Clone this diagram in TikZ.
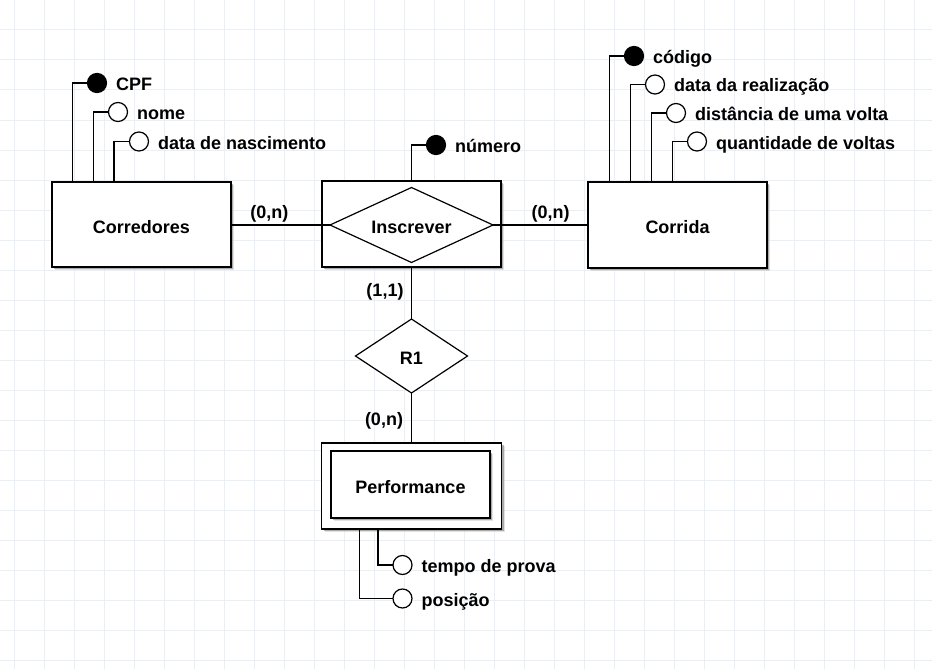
\documentclass[tikz,border=0pt]{standalone}
\usepackage{fontspec}
\setmainfont{Liberation Sans}
\usetikzlibrary{shapes.geometric,shadows}
\definecolor{gridblue}{RGB}{233,239,247}
\begin{document}
\begin{tikzpicture}[x=1pt,y=-1pt,
  every node/.style={font=\fontsize{18}{20}\selectfont\bfseries},
  conn/.style={line width=1.2pt, black},
  entity/.style={draw, line width=1.2pt, fill=white, rectangle, inner sep=0pt, outer sep=0pt,
    text height=17pt, text depth=0pt,
    drop shadow={shadow xshift=3pt, shadow yshift=-3pt, fill=black!22},
    drop shadow={shadow xshift=2pt, shadow yshift=-2pt, fill=black!55}},
  rel/.style={draw, line width=1.2pt, fill=white, diamond, shape aspect=2, inner sep=0pt, outer sep=0pt,
    text height=17pt, text depth=0pt},
  keyattr/.style={circle, draw, line width=1.2pt, fill=black, minimum size=19pt, inner sep=0pt, outer sep=0pt},
  attr/.style={keyattr, fill=white},
  attrtext/.style={anchor=base west, inner sep=0pt},
  card/.style={inner sep=0pt}
]
% canvas and grid
\useasboundingbox (0,0) rectangle (932,669);
\fill[white] (0,0) rectangle (932,669);
\foreach \gx in {14,44,...,914} \draw[gridblue, line width=1pt] (\gx,0) -- (\gx,669);
\foreach \gy in {0,30,...,660} \draw[gridblue, line width=1pt] (0,\gy) -- (932,\gy);

% entities and relationships
\node[entity, minimum width=179pt, minimum height=85pt] (corredores) at (141.5,224.5) {Corredores};
\node[entity, minimum width=179pt, minimum height=86pt] (inscBox) at (411.5,224) {};
\node[rel, minimum width=163pt, minimum height=75pt] (inscrever) at (411.5,225) {Inscrever};
\node[entity, minimum width=179pt, minimum height=86pt] (corrida) at (677.5,225) {Corrida};
\node[rel, minimum width=112pt, minimum height=74pt] (r1) at (411.5,356) {R1};
\node[entity, minimum width=180pt, minimum height=86pt] (perfOuter) at (411.5,486) {};
\node[entity, minimum width=159pt, minimum height=67pt] (performance) at (410.5,484.5) {Performance};

% attributes of Corredores
\node[keyattr] (cpf) at (97,83) {};
\node[attrtext] (cpfT) at (116,90.5) {CPF};
\node[attr] (nome) at (118,112) {};
\node[attrtext] (nomeT) at (137,119.5) {nome};
\node[attr] (nasc) at (139,141.5) {};
\node[attrtext] (nascT) at (158,149) {data de nascimento};

% attribute of Inscrever
\node[keyattr] (numero) at (436,145) {};
\node[attrtext] (numeroT) at (455,152.5) {número};

% attributes of Corrida
\node[keyattr] (codigo) at (634,56) {};
\node[attrtext] (codigoT) at (653,63.5) {código};
\node[attr] (dataReal) at (655,84.5) {};
\node[attrtext] (dataRealT) at (674,92) {data da realização};
\node[attr] (distancia) at (676,113) {};
\node[attrtext] (distanciaT) at (695,120.5) {distância de uma volta};
\node[attr] (qtd) at (697,141.5) {};
\node[attrtext] (qtdT) at (716,149) {quantidade de voltas};

% attributes of Performance
\node[attr] (tempo) at (402.5,565) {};
\node[attrtext] (tempoT) at (421.5,572.5) {tempo de prova};
\node[attr] (posicao) at (402.5,598.5) {};
\node[attrtext] (posicaoT) at (421.5,606) {posição};

% cardinalities
\node[card] (cardA) at (269.3,213.8) {(0,n)};
\node[card] (cardB) at (550.7,214) {(0,n)};
\node[card] (cardC) at (385,292.2) {(1,1)};
\node[card] (cardD) at (384,420.5) {(0,n)};

% relationship connectors
\draw[conn] (corredores.east |- inscrever.west) -- (inscrever.west);
\draw[conn] (inscrever.east) -- (inscrever.east -| corrida.west);
\draw[conn] (inscBox.south) -- (r1.north);
\draw[conn] (r1.south) -- (perfOuter.north);

% attribute connectors
\draw[conn] ([xshift=20.5pt]corredores.north west) |- (cpf.west);
\draw[conn] ([xshift=41.5pt]corredores.north west) |- (nome.west);
\draw[conn] ([xshift=62pt]corredores.north west) |- (nasc.west);
\draw[conn] (inscBox.north) |- (numero.west);
\draw[conn] ([xshift=21.5pt]corrida.north west) |- (codigo.west);
\draw[conn] ([xshift=42.5pt]corrida.north west) |- (dataReal.west);
\draw[conn] ([xshift=63.5pt]corrida.north west) |- (distancia.west);
\draw[conn] ([xshift=84.5pt]corrida.north west) |- (qtd.west);
\draw[conn] ([xshift=56.5pt]perfOuter.south west) |- (tempo.west);
\draw[conn] ([xshift=38pt]perfOuter.south west) |- (posicao.west);
\end{tikzpicture}
\end{document}
